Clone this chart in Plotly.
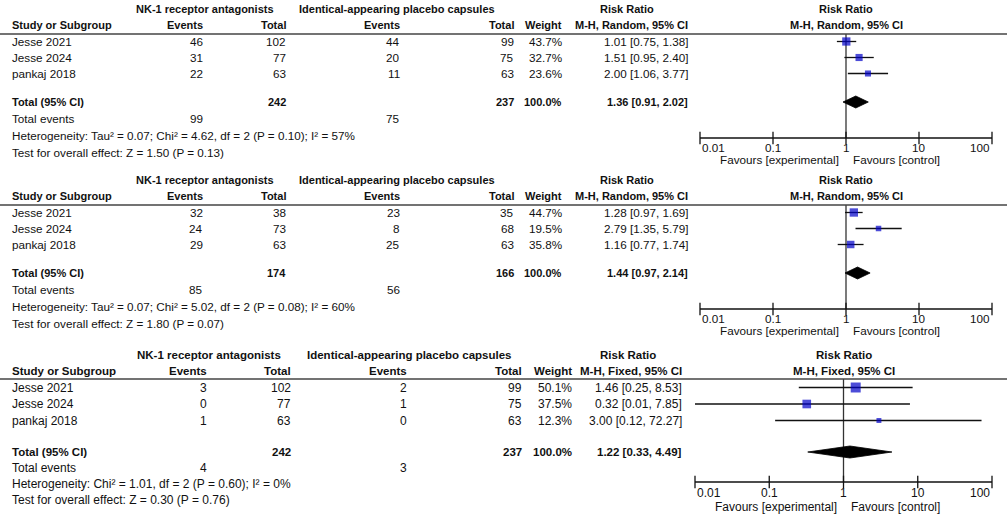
import math
import plotly.graph_objects as go

W, H = 1007, 522
FONT = "Arial, Liberation Sans, sans-serif"
TEXT = "#111111"
BLUE = "#0000C8"

STUDIES = ["Jesse 2021", "Jesse 2024", "pankaj 2018"]
EXP_LABEL = "NK-1 receptor antagonists"
CTL_LABEL = "Identical-appearing placebo capsules"
TICK_VALUES = [0.01, 0.1, 1, 10, 100]
TICK_LABELS = ["0.01", "0.1", "1", "10", "100"]

# ---- Panel 1 data ----
P1_EXP_EVENTS = [46, 31, 22]
P1_EXP_TOTAL = [102, 77, 63]
P1_CTL_EVENTS = [44, 20, 11]
P1_CTL_TOTAL = [99, 75, 63]
P1_WEIGHT = [43.7, 32.7, 23.6]
P1_RR = [1.01, 1.51, 2.00]
P1_LO = [0.75, 0.95, 1.06]
P1_HI = [1.38, 2.40, 3.77]
P1_POOLED = [1.36, 0.91, 2.02]
P1_SUMS = [242, 237, 99, 75, 100.0]
P1_METHOD = "M-H, Random, 95% CI"
P1_HET = "Heterogeneity: Tau² = 0.07; Chi² = 4.62, df = 2 (P = 0.10); I² = 57%"
P1_TEST = "Test for overall effect: Z = 1.50 (P = 0.13)"

# ---- Panel 2 data ----
P2_EXP_EVENTS = [32, 24, 29]
P2_EXP_TOTAL = [38, 73, 63]
P2_CTL_EVENTS = [23, 8, 25]
P2_CTL_TOTAL = [35, 68, 63]
P2_WEIGHT = [44.7, 19.5, 35.8]
P2_RR = [1.28, 2.79, 1.16]
P2_LO = [0.97, 1.35, 0.77]
P2_HI = [1.69, 5.79, 1.74]
P2_POOLED = [1.44, 0.97, 2.14]
P2_SUMS = [174, 166, 85, 56, 100.0]
P2_METHOD = "M-H, Random, 95% CI"
P2_HET = "Heterogeneity: Tau² = 0.07; Chi² = 5.02, df = 2 (P = 0.08); I² = 60%"
P2_TEST = "Test for overall effect: Z = 1.80 (P = 0.07)"

# ---- Panel 3 data ----
P3_EXP_EVENTS = [3, 0, 1]
P3_EXP_TOTAL = [102, 77, 63]
P3_CTL_EVENTS = [2, 1, 0]
P3_CTL_TOTAL = [99, 75, 63]
P3_WEIGHT = [50.1, 37.5, 12.3]
P3_RR = [1.46, 0.32, 3.00]
P3_LO = [0.25, 0.01, 0.12]
P3_HI = [8.53, 7.85, 72.27]
P3_POOLED = [1.22, 0.33, 4.49]
P3_SUMS = [242, 237, 4, 3, 100.0]
P3_METHOD = "M-H, Fixed, 95% CI"
P3_HET = "Heterogeneity: Chi² = 1.01, df = 2 (P = 0.60); I² = 0%"
P3_TEST = "Test for overall effect: Z = 0.30 (P = 0.76)"

# layout (pixel positions) for each panel
STYLE12 = dict(size=11.7, bsize=11, study=10, ev1=205, tot1=288, ev2=402, tot2=516, wt=564, rr=690,
               h_exp=205, h_ctl=397, h_rr=627, f0=700, f1=992, box_k=1.25)
STYLE3 = dict(size=12, bsize=11.5, study=10, ev1=209, tot1=293, ev2=409, tot2=524, wt=574, rr=684,
              h_exp=209, h_ctl=409, h_rr=628, f0=695, f1=992, box_k=1.41)

def rows(h1, h2, line, r0, rh, total, tev, het, test, axis, tick, fav):
    return dict(h1=h1, h2=h2, line=line, r0=r0, rh=rh, total=total, tev=tev,
                het=het, test=test, axis=axis, tick=tick, fav=fav)

PANELS = [
    dict(ee=P1_EXP_EVENTS, et=P1_EXP_TOTAL, ce=P1_CTL_EVENTS, ct=P1_CTL_TOTAL, w=P1_WEIGHT,
         rr=P1_RR, lo=P1_LO, hi=P1_HI, pooled=P1_POOLED, sums=P1_SUMS, method=P1_METHOD,
         het=P1_HET, test=P1_TEST, st=STYLE12,
         y=rows(9, 25, 34, 41.5, 16, 102, 118, 135, 152, 138, 147, 159)),
    dict(ee=P2_EXP_EVENTS, et=P2_EXP_TOTAL, ce=P2_CTL_EVENTS, ct=P2_CTL_TOTAL, w=P2_WEIGHT,
         rr=P2_RR, lo=P2_LO, hi=P2_HI, pooled=P2_POOLED, sums=P2_SUMS, method=P2_METHOD,
         het=P2_HET, test=P2_TEST, st=STYLE12,
         y=rows(180, 196, 205, 212.5, 16, 273, 289, 306, 323, 309, 318, 330)),
    dict(ee=P3_EXP_EVENTS, et=P3_EXP_TOTAL, ce=P3_CTL_EVENTS, ct=P3_CTL_TOTAL, w=P3_WEIGHT,
         rr=P3_RR, lo=P3_LO, hi=P3_HI, pooled=P3_POOLED, sums=P3_SUMS, method=P3_METHOD,
         het=P3_HET, test=P3_TEST, st=STYLE3,
         y=rows(355, 371, 379, 387.5, 16.5, 452, 468, 484, 500, 482, 493, 507)),
]

fig = go.Figure()
annotations = []
shapes = []

def txt(s, x, y, anchor, size, bold=False, xref="x", xshift=0):
    annotations.append(dict(
        text=f"<b>{s}</b>" if bold else s, x=x, y=y, xref=xref, yref="y",
        xanchor=anchor, yanchor="middle", showarrow=False, xshift=xshift,
        font=dict(size=size, color=TEXT, family=FONT)))

layout_axes = {}
for i, p in enumerate(PANELS):
    st, yy = p["st"], p["y"]
    fs, bs = st["size"], st["bsize"]
    xa = f"x{i + 2}"
    layout_axes[f"xaxis{i + 2}"] = dict(type="log", range=[-2, 2],
                                        domain=[st["f0"] / W, st["f1"] / W],
                                        anchor="y", visible=False)
    # headers
    txt(EXP_LABEL, st["h_exp"], yy["h1"], "center", bs, True)
    txt(CTL_LABEL, st["h_ctl"], yy["h1"], "center", bs, True)
    txt("Risk Ratio", st["h_rr"], yy["h1"], "center", bs, True)
    txt("Risk Ratio", 0, yy["h1"], "center", bs, True, xref=xa)
    txt("Study or Subgroup", st["study"], yy["h2"], "left", bs, True)
    txt("Events", st["ev1"], yy["h2"], "right", bs, True)
    txt("Total", st["tot1"], yy["h2"], "right", bs, True)
    txt("Events", st["ev2"], yy["h2"], "right", bs, True)
    txt("Total", st["tot2"], yy["h2"], "right", bs, True)
    txt("Weight", st["wt"], yy["h2"], "right", bs, True)
    txt(p["method"], st["rr"], yy["h2"], "right", bs, True)
    txt(p["method"], 0, yy["h2"], "center", bs, True, xref=xa)
    shapes.append(dict(type="line", xref="x", yref="y", x0=0, x1=W, y0=yy["line"], y1=yy["line"],
                       line=dict(color="#444444", width=1.5)))
    # study rows
    ys = [yy["r0"] + k * yy["rh"] for k in range(len(STUDIES))]
    for k, name in enumerate(STUDIES):
        y = ys[k]
        txt(name, st["study"], y, "left", fs)
        txt(str(p["ee"][k]), st["ev1"], y, "right", fs)
        txt(str(p["et"][k]), st["tot1"], y, "right", fs)
        txt(str(p["ce"][k]), st["ev2"], y, "right", fs)
        txt(str(p["ct"][k]), st["tot2"], y, "right", fs)
        txt(f"{p['w'][k]:.1f}%", st["wt"], y, "right", fs)
        txt(f"{p['rr'][k]:.2f} [{p['lo'][k]:.2f}, {p['hi'][k]:.2f}]", st["rr"], y, "right", fs)
    # total row
    pe, pl, ph = p["pooled"]
    txt("Total (95% CI)", st["study"], yy["total"], "left", bs, True)
    txt(str(p["sums"][0]), st["tot1"], yy["total"], "right", bs, True)
    txt(str(p["sums"][1]), st["tot2"], yy["total"], "right", bs, True)
    txt(f"{p['sums'][4]:.1f}%", st["wt"], yy["total"], "right", bs, True)
    txt(f"{pe:.2f} [{pl:.2f}, {ph:.2f}]", st["rr"], yy["total"], "right", bs, True)
    txt("Total events", st["study"], yy["tev"], "left", fs)
    txt(str(p["sums"][2]), st["ev1"], yy["tev"], "right", fs)
    txt(str(p["sums"][3]), st["ev2"], yy["tev"], "right", fs)
    txt(p["het"], st["study"], yy["het"], "left", fs)
    txt(p["test"], st["study"], yy["test"], "left", fs)

    # forest: null line
    fig.add_trace(go.Scatter(x=[1, 1], y=[yy["line"], yy["axis"]], mode="lines", xaxis=xa, yaxis="y",
                             line=dict(color="#333333", width=1.3), cliponaxis=False, hoverinfo="skip"))
    # CI lines
    cx, cy = [], []
    for k in range(len(STUDIES)):
        cx += [p["lo"][k], p["hi"][k], None]
        cy += [ys[k], ys[k], None]
    fig.add_trace(go.Scatter(x=cx, y=cy, mode="lines", xaxis=xa, yaxis="y",
                             line=dict(color="#111111", width=1.3), cliponaxis=False))
    # squares
    fig.add_trace(go.Scatter(x=p["rr"], y=ys, mode="markers", xaxis=xa, yaxis="y",
                             marker=dict(symbol="square", color=BLUE,
                                         size=[st["box_k"] * math.sqrt(w) for w in p["w"]],
                                         line=dict(width=0)), cliponaxis=False))
    # diamond
    dh = 6
    fig.add_trace(go.Scatter(x=[pl, pe, ph, pe, pl], y=[yy["total"], yy["total"] - dh, yy["total"],
                                                        yy["total"] + dh, yy["total"]],
                             mode="lines", fill="toself", fillcolor="black", xaxis=xa, yaxis="y",
                             line=dict(color="black", width=0.8), cliponaxis=False))
    # axis
    fig.add_trace(go.Scatter(x=[TICK_VALUES[0], TICK_VALUES[-1]], y=[yy["axis"]] * 2, mode="lines",
                             xaxis=xa, yaxis="y", line=dict(color="#111111", width=1.3), cliponaxis=False))
    fig.add_trace(go.Scatter(x=TICK_VALUES, y=[yy["axis"]] * len(TICK_VALUES), mode="markers",
                             xaxis=xa, yaxis="y", cliponaxis=False,
                             marker=dict(symbol="line-ns", size=9, line=dict(width=1.3, color="#111111"))))
    for j, (tv, tl) in enumerate(zip(TICK_VALUES, TICK_LABELS)):
        anc = "left" if j == 0 else ("right" if j == len(TICK_VALUES) - 1 else "center")
        txt(tl, math.log10(tv), yy["tick"], anc, fs, xref=xa)
    txt("Favours [experimental]", 0, yy["fav"], "right", fs, xref=xa, xshift=-5)
    txt("Favours [control]", 0, yy["fav"], "left", fs, xref=xa, xshift=5)

fig.update_layout(
    width=W, height=H, margin=dict(l=0, r=0, t=0, b=0),
    paper_bgcolor="white", plot_bgcolor="rgba(0,0,0,0)", showlegend=False,
    xaxis=dict(range=[0, W], domain=[0, 1], visible=False, anchor="y"),
    yaxis=dict(range=[H, 0], domain=[0, 1], visible=False, anchor="x"),
    annotations=annotations, shapes=shapes, hovermode=False,
    **layout_axes,
)
fig.write_html("out.html", config={"displayModeBar": False},
               post_script="document.body.style.margin='0px';")
